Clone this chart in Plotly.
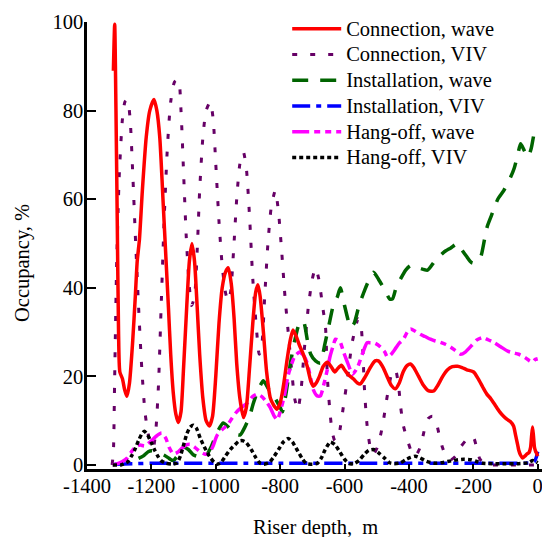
import plotly.graph_objects as go

# ---------------- data ----------------
conn_wave_x = [-1318, -1314, -1310, -1306, -1302, -1298, -1290, -1283, -1276, -1268, -1258, -1250, -1244, -1237,
               -1228, -1216, -1205, -1192, -1183, -1174, -1163, -1155, -1147, -1140, -1132, -1124, -1116, -1108,
               -1100, -1090, -1082, -1074, -1066, -1058, -1050, -1040, -1030, -1020, -1010, -1000, -990, -980,
               -970, -961, -952, -943, -935, -925, -914, -905, -895, -885, -876, -869, -862, -852, -842, -830,
               -820, -810, -800, -790, -778, -768, -760, -750, -740, -728, -716, -705, -697, -688, -678, -666,
               -653, -640, -630, -622, -610, -600, -590, -572, -560, -551, -535, -520, -505, -495, -480, -465,
               -455, -442, -430, -418, -405, -395, -385, -370, -355, -340, -323, -310, -295, -280, -265, -249,
               -235, -220, -199, -185, -170, -158, -146, -132, -118, -106, -95, -85, -75, -68, -62, -59, -53,
               -47, -40, -33, -27, -22, -19, -16, -13, -10, -6, -3, 0]
conn_wave_y = [89, 99.5, 80, 55, 30, 21, 19.5, 17, 15.5, 18.5, 28, 38, 46, 51,
               62, 74, 80, 82.5, 80, 74, 58.6, 47, 35.5, 25, 16.3, 11.5, 9.6, 12,
               22, 36, 46, 50, 46, 36, 25, 15, 10, 8.8, 11, 20, 32, 40,
               43.5, 44.5, 41, 33, 23, 15, 10.7, 13, 22, 32, 39, 40.7, 38, 30, 21, 15,
               13.5, 12.6, 14, 17.8, 24, 28.4, 30.5, 29, 27, 25, 22.3, 19, 17.8, 18.5, 20, 22.3,
               23.2, 22, 21, 21.7, 22.5, 21.5, 20.5, 19.4, 18.5, 18.3, 20, 22, 23.5, 23.5, 22, 19.5,
               18, 17.2, 18.5, 21, 22.5, 22.8, 22, 20, 18, 16.8, 16.7, 18, 20, 21.5, 22.2, 22.3,
               22, 21.5, 21, 19.5, 17.5, 16, 15, 13.5, 12, 11, 10.3, 9.8, 8.8, 6.5, 4.5, 3.4, 2.2,
               1.6, 2, 2.5, 2.8, 4, 6.5, 8.6, 6.5, 4, 3, 2.6, 2]

conn_viv_x = [-1322, -1318, -1314, -1308, -1300, -1290, -1282, -1274, -1266, -1258, -1250, -1240, -1230, -1220,
              -1210, -1200, -1194, -1186, -1178, -1170, -1160, -1150, -1140, -1128, -1116, -1108, -1100, -1092,
              -1084, -1075, -1066, -1058, -1050, -1040, -1030, -1017, -1008, -1000, -990, -980, -970, -962,
              -954, -945, -935, -925, -914, -905, -895, -885, -875, -865, -857, -848, -838, -828, -815, -805,
              -795, -785, -775, -765, -755, -745, -735, -725, -712, -700, -690, -680, -668, -659, -653, -644,
              -638, -630, -620, -613, -604, -590, -578, -566, -558, -550, -544, -538, -530, -520, -510, -498,
              -482, -473, -464, -452, -442, -432, -426, -417, -404, -392, -380, -365, -350, -340, -327, -315,
              -305, -296, -285, -270, -255, -240, -224, -210, -198, -190, -180, -168, -155, -140, 0]
conn_viv_y = [0, 3, 20, 45, 65, 78, 82, 82.5, 78, 66, 52, 36, 22, 12,
              7, 4.5, 4, 8, 18, 35, 56, 72, 82, 86.5, 87, 80, 66, 52,
              42, 36, 38, 48, 62, 74, 80, 82, 78, 68, 55, 45, 39, 37,
              39, 48, 60, 68, 70.6, 67, 56, 42, 32, 25, 27, 38, 50, 58, 62, 57,
              48, 38, 30, 22, 15, 12.5, 17, 26, 36, 42, 44.5, 42, 35.8, 31, 19.4, 11,
              7.4, 5.5, 6, 8.5, 13, 20, 27, 31, 33, 32, 27, 17, 9, 4, 2.5, 4,
              8.8, 13, 17, 21, 21.5, 17.8, 13.3, 8.8, 5.5, 3, 2, 4, 8.5, 10.5, 11, 9.5,
              6.5, 4, 2, 1.2, 2, 4, 5.5, 6.5, 6, 4, 1.4, 0.4, 0, 0, 0]

inst_wave_x = [-1240, -1226, -1210, -1198, -1180, -1160, -1145, -1132, -1115, -1100, -1085, -1070, -1050, -1035,
               -1015, -996, -977, -960, -940, -924, -910, -895, -883, -868, -852, -835, -815, -800, -793, -780,
               -768, -755, -740, -728, -715, -705, -690, -675, -662, -650, -635, -622, -613, -600, -590, -582,
               -570, -555, -540, -529, -510, -495, -475, -460, -451, -440, -426, -410, -395, -370, -342, -320,
               -292, -270, -249, -235, -220, -210, -202, -190, -177, -165, -156, -140, -124, -105, -84, -73,
               -62, -53, -42, -30, -20, -10, 0]
inst_wave_y = [1.5, 2, 3, 3.2, 2.8, 2.2, 1.5, 1, 2.5, 4, 3.5, 2.3, 1.8, 1.6,
               4, 7.3, 9.5, 8.5, 7, 6.8, 8.5, 11, 14, 17, 19, 17, 15, 13, 12, 17,
               23, 28, 32, 32.5, 28, 25, 23.5, 23, 27, 31, 36, 38, 40, 36, 33, 31,
               32, 36, 39, 41, 43.5, 42, 39.5, 37.5, 37.5, 40, 42, 44, 45, 44.5, 44, 46,
               48, 49, 50, 48.5, 47, 46, 45.6, 46, 47, 51, 54, 57, 60, 62, 65, 67,
               70, 72.5, 71, 69.5, 71.5, 75, 76]

inst_viv_x = [-1315, -1250, -1200, -1150, -1100, -1050, -1000, -900, -800, -700, -600, -500, -400, -300,
              -200, -100, -40, -20, -10, -4, 0]
inst_viv_y = [0.2, 0.3, 0.4, 0.4, 0.4, 0.4, 0.4, 0.4, 0.4, 0.4, 0.4, 0.4, 0.4, 0.4,
              0.4, 0.4, 0.4, 0.5, 0.8, 1.8, 3]

hang_wave_x = [-1320, -1305, -1290, -1275, -1262, -1248, -1235, -1220, -1204, -1185, -1168, -1155, -1145, -1132,
               -1120, -1105, -1090, -1080, -1065, -1049, -1035, -1024, -1010, -996, -980, -964, -950, -935,
               -920, -902, -885, -871, -858, -845, -831, -818, -809, -800, -787, -776, -768, -755, -740, -725,
               -716, -705, -697, -685, -675, -665, -655, -645, -635, -628, -615, -603, -590, -575, -560, -545,
               -530, -520, -505, -488, -475, -467, -455, -440, -430, -417, -405, -395, -380, -365, -350, -333,
               -318, -302, -285, -270, -255, -239, -225, -205, -190, -171, -155, -137, -115, -93, -75, -59,
               -40, -25, -16, -8, 0]
hang_wave_y = [0, 0.3, 0.8, 1.6, 3, 4.2, 4.5, 4.3, 5.2, 6.5, 7.2, 6, 4, 2.5,
               2.8, 3.8, 4.6, 4.7, 4, 3, 2.5, 2.5, 4, 6.7, 8, 9, 10.5, 12,
               13, 14, 15.5, 16, 15.5, 14.5, 13, 11, 10.2, 12, 15.6, 20, 22, 24.5, 25.5, 24.5,
               23, 19.5, 17, 15.6, 15.6, 18, 21, 24.5, 27, 28.4, 28, 25.5, 23, 20.5, 22, 25,
               27.6, 27.6, 27.5, 26.6, 25.5, 24.4, 25, 26.5, 27.5, 28.4, 30, 30.7, 30.2, 29.5, 29, 28.4,
               28, 27.7, 27.2, 26.6, 25.8, 25, 25.5, 27, 28.2, 28.8, 28.3, 27.7, 26.7, 25.7, 25.3, 25,
               24.3, 23.5, 23.2, 23.8, 24]

hang_viv_x = [-1320, -1295, -1285, -1272, -1262, -1252, -1240, -1230, -1222, -1212, -1200, -1190, -1180, -1170,
              -1155, -1135, -1120, -1110, -1100, -1090, -1080, -1070, -1060, -1048, -1035, -1020, -1005, -995,
              -985, -970, -955, -940, -928, -917, -905, -890, -875, -862, -850, -835, -820, -805, -790, -775,
              -762, -748, -732, -718, -700, -684, -672, -660, -644, -630, -615, -600, -585, -570, -555, -540,
              -525, -510, -495, -475, -460, -445, -426, -410, -395, -380, -365, -345, -320, -300, -280, -255,
              -230, -208, -190, -170, -140, -100, -60, -30, -15, 0]
hang_viv_y = [0, 0, 0.3, 0.8, 2, 3.4, 5.5, 7, 7.6, 6.8, 5, 3.4, 2, 1,
              0.4, 0.2, 0.5, 2, 4.5, 7, 8.5, 9, 8.3, 6, 4, 2, 0.6, 0.2,
              0.5, 2, 3.5, 4.6, 5.4, 5.5, 5, 3.5, 1.6, 0.4, 0.2, 0.5, 1.8, 3.5, 5.2, 6,
              5.2, 3.5, 1.5, 0.3, 0.2, 0.4, 1.6, 3.5, 5.2, 4.6, 3, 1.3, 0.3, 0.3, 1, 2.3,
              3.3, 3.5, 2.8, 1.5, 0.5, 0.3, 0.5, 1.2, 1.7, 2, 1.6, 0.8, 0.4, 0.5, 0.8, 1.1,
              1.3, 1.2, 0.8, 0.4, 0.3, 0.3, 0.3, 0.5, 1, 0.5]

x_tick_vals = [-1400, -1200, -1000, -800, -600, -400, -200, 0]
x_tick_text = ["-1400", "-1200", "-1000", "-800", "-600", "-400", "-200", "0"]
y_tick_vals = [0, 20, 40, 60, 80, 100]

FONT = "Liberation Serif, Times New Roman, serif"
FS = 20.5

fig = go.Figure()

def add(x, y, name, color, width, dash, rank):
    label = "<span style='font-size:20.5px'>" + name + "</span>"
    fig.add_trace(go.Scatter(x=x, y=y, name=label, mode="lines", legendrank=rank, hoverinfo="skip",
                             line=dict(color=color, width=width, dash=dash, shape="spline", smoothing=0.6)))

add(conn_viv_x, conn_viv_y, "Connection, VIV", "#660066", 3, "5px,13px", 2)
add(inst_wave_x, inst_wave_y, "Installation, wave", "#006400", 3.5, "16px,12px", 3)
add(inst_viv_x, inst_viv_y, "Installation, VIV", "#0000ff", 3.5, "18px,6px,5px,6px", 4)
add(hang_wave_x, hang_wave_y, "Hang-off, wave", "#ff00ff", 3.5, "17px,5px,6px,5px,6px,5px", 5)
add(hang_viv_x, hang_viv_y, "Hang-off, VIV", "#000000", 3.5, "4px,3px", 6)
add(conn_wave_x, conn_wave_y, "Connection, wave", "#ff0000", 3.5, "solid", 1)

fig.update_layout(
    width=542, height=537,
    margin=dict(l=87, r=0, t=22, b=68),
    paper_bgcolor="white", plot_bgcolor="white",
    font=dict(family=FONT, size=FS, color="black"),
    showlegend=True,
    legend=dict(x=0.44, xanchor="left", y=1.025, yanchor="top", bgcolor="rgba(0,0,0,0)",
                borderwidth=0, itemwidth=49, font=dict(family=FONT, size=17.5, color="black"),
                tracegroupgap=0),
    xaxis=dict(range=[-1400, 13.4], tickvals=x_tick_vals, ticktext=x_tick_text,
               ticks="inside", ticklen=5, tickwidth=2, tickcolor="black",
               showline=True, linecolor="black", linewidth=2.5, showgrid=False, zeroline=False,
               ticklabelstandoff=-3, ticklabeloverflow="allow",
               tickfont=dict(family=FONT, size=FS, color="black")),
    yaxis=dict(range=[-0.9, 100], tickvals=y_tick_vals,
               ticks="inside", ticklen=9, tickwidth=2, tickcolor="black",
               showline=True, linecolor="black", linewidth=2.5, showgrid=False, zeroline=False,
               ticklabelstandoff=-3,
               tickfont=dict(family=FONT, size=FS, color="black")),
    annotations=[
        dict(text="Occupancy, %", textangle=-90, xref="paper", yref="paper",
             x=(22 - 87) / 455, y=(469 - 263) / 447, xanchor="center", yanchor="middle",
             showarrow=False, font=dict(family=FONT, size=FS, color="black")),
        dict(text="Riser depth,\u00a0 m", xref="paper", yref="paper",
             x=(315 - 87) / 455, y=-(527 - 469) / 447, xanchor="center", yanchor="middle",
             showarrow=False, font=dict(family=FONT, size=FS, color="black")),
    ],
)

fig.write_html("out.html", config={"displayModeBar": False},
               post_script="document.body.style.margin='0px';document.body.style.overflow='hidden';")
